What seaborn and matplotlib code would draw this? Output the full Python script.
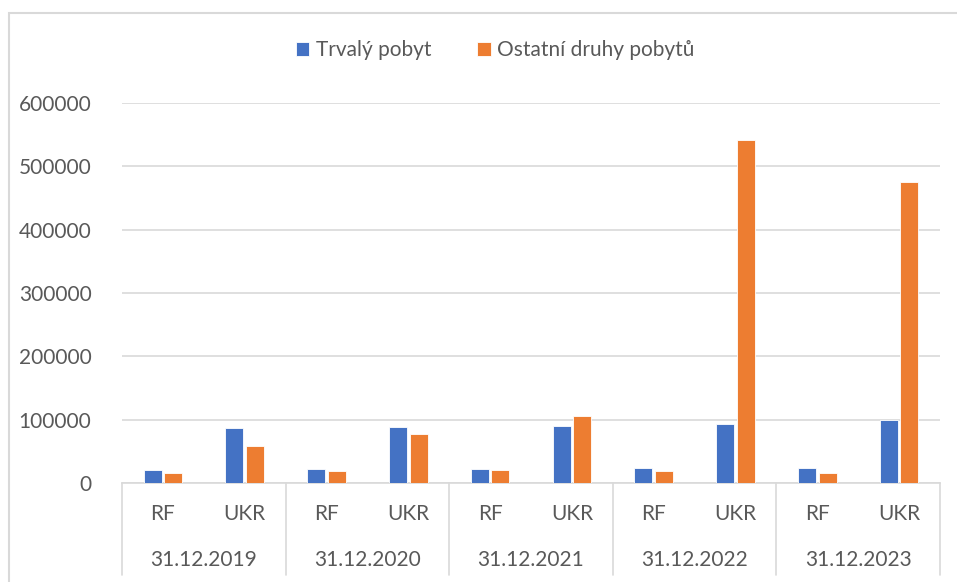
import pandas as pd
import seaborn as sns
import matplotlib
import matplotlib.pyplot as plt
from matplotlib.patches import Rectangle

matplotlib.use('Agg')

dates = ['31.12.2019', '31.12.2020', '31.12.2021', '31.12.2022', '31.12.2023']
countries = ['RF', 'UKR']
series = ['Trvalý pobyt', 'Ostatní druhy pobytů']
# values per date, RF then UKR
trvaly = [21300, 86800, 22200, 88400, 22700, 90500, 23300, 93100, 23800, 98900]
ostatni = [15400, 58200, 18500, 77300, 21100, 105800, 19000, 542000, 15900, 475000]

rows = []
i = 0
for d in dates:
    for c in countries:
        rows.append({'cat': d + ' ' + c, 'type': series[0], 'value': trvaly[i]})
        rows.append({'cat': d + ' ' + c, 'type': series[1], 'value': ostatni[i]})
        i += 1
df = pd.DataFrame(rows)

sns.set_style('white')
plt.rcParams['font.family'] = ['Lato', 'DejaVu Sans']
txt = '#595959'
grid = '#d9d9d9'
fs = 15

fig = plt.figure(figsize=(9.57, 5.82), dpi=100)
ax = fig.add_axes([122 / 957, 99 / 582, 818 / 957, 380 / 582])

sns.barplot(data=df, x='cat', y='value', hue='type', ax=ax,
            palette=['#4472C4', '#ED7D31'], saturation=1, width=0.5, gap=0.12,
            edgecolor='white', linewidth=0.6, errorbar=None, zorder=3)

ax.set_ylim(0, 600000)
ax.set_xlim(-0.5, len(dates) * 2 - 0.5)
ax.set_yticks(range(0, 600001, 100000))
ax.set_yticklabels([str(v) for v in range(0, 600001, 100000)])
ax.yaxis.grid(True, color=grid, linewidth=1.2, zorder=0)
ax.set_axisbelow(True)
ax.set(xlabel='', ylabel='')
for s in ['left', 'right', 'top']:
    ax.spines[s].set_visible(False)
ax.spines['bottom'].set_color(grid)
ax.spines['bottom'].set_linewidth(1.2)
ax.tick_params(axis='y', length=0, pad=22, labelsize=fs, labelcolor=txt)
ax.tick_params(axis='x', length=0, pad=15, labelsize=fs, labelcolor=txt)
ax.set_xticks(range(len(dates) * 2))
ax.set_xticklabels(countries * len(dates))

# group labels and separators
tr = ax.get_xaxis_transform()
for g, d in enumerate(dates):
    ax.text(2 * g + 0.5, -0.203, d, transform=tr, ha='center', va='center',
            fontsize=fs, color=txt)
for g in range(len(dates) + 1):
    ax.plot([2 * g - 0.5, 2 * g - 0.5], [0, -0.242], transform=tr,
            color=grid, linewidth=1.2, clip_on=False)

handles, labels = ax.get_legend_handles_labels()
ax.legend_.remove()
fig.legend(handles, labels, loc='center', bbox_to_anchor=(495 / 957, 1 - 50 / 582),
           ncol=2, frameon=False, fontsize=fs, labelcolor=txt,
           handlelength=0.65, handleheight=0.65, handletextpad=0.3, columnspacing=2.2)

fig.patches.append(Rectangle((9 / 957, -0.1), 1.2, 1.1 - 13 / 582, transform=fig.transFigure,
                             fill=False, edgecolor=grid, linewidth=1.5))

fig.savefig('out.png', dpi=100)
